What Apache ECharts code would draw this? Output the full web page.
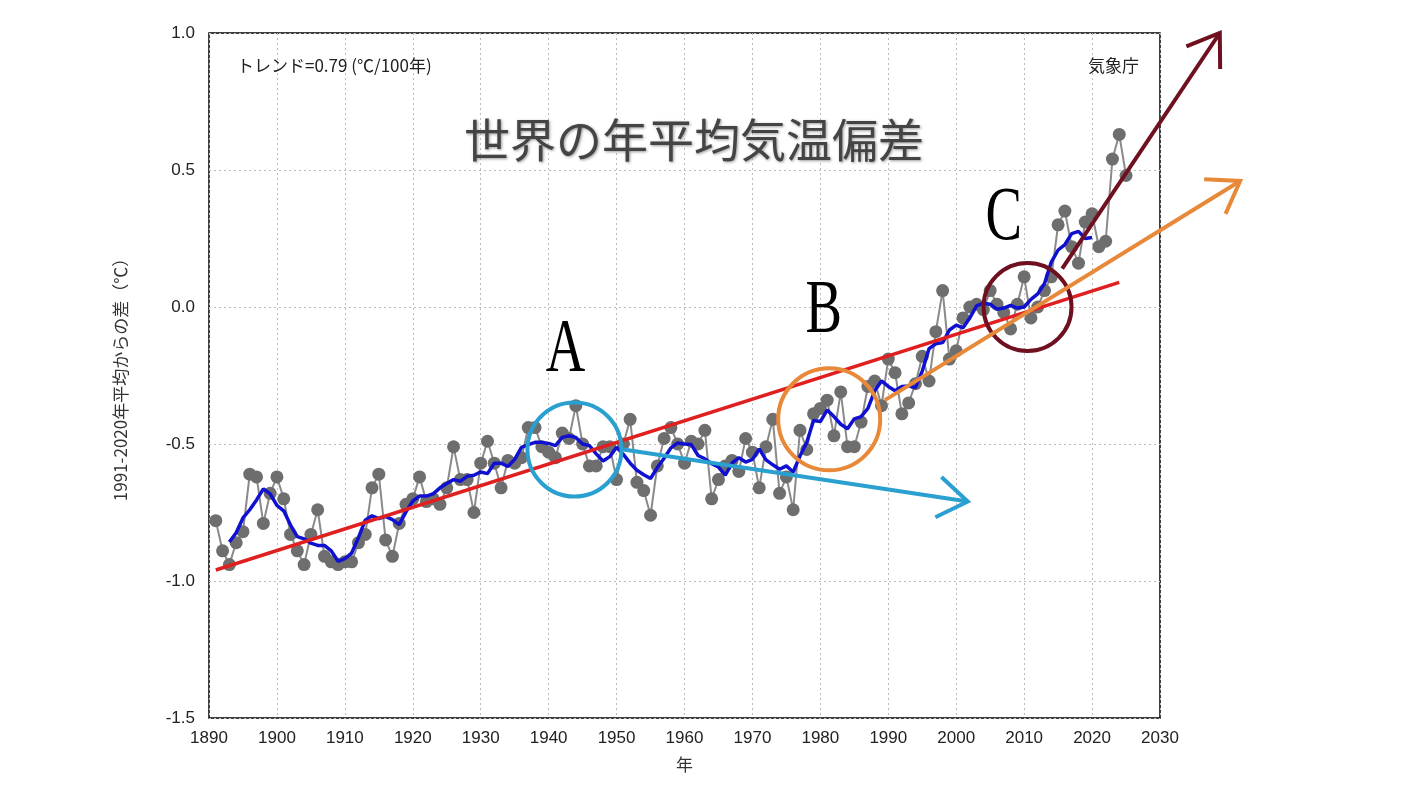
<!DOCTYPE html>
<html><head><meta charset="utf-8">
<script src="https://cdn.jsdelivr.net/npm/echarts@6/dist/echarts.min.js"></script>
<style>html,body{margin:0;background:#fff}#c{width:1409px;height:792px}</style>
</head><body><div id="c"></div>
<script>
const startYear = 1891;
const anomalies = [-0.78,-0.89,-0.94,-0.86,-0.82,-0.61,-0.62,-0.79,-0.68,-0.62,
-0.70,-0.83,-0.89,-0.94,-0.83,-0.74,-0.91,-0.93,-0.94,-0.93,
-0.93,-0.86,-0.83,-0.66,-0.61,-0.85,-0.91,-0.79,-0.72,-0.70,
-0.62,-0.71,-0.70,-0.72,-0.66,-0.51,-0.63,-0.63,-0.75,-0.57,
-0.49,-0.57,-0.66,-0.56,-0.57,-0.55,-0.44,-0.44,-0.51,-0.53,
-0.55,-0.46,-0.48,-0.36,-0.50,-0.58,-0.58,-0.51,-0.51,-0.63,
-0.50,-0.41,-0.64,-0.67,-0.76,-0.58,-0.48,-0.44,-0.50,-0.57,
-0.49,-0.50,-0.45,-0.70,-0.63,-0.58,-0.56,-0.60,-0.48,-0.53,
-0.66,-0.51,-0.41,-0.68,-0.62,-0.74,-0.45,-0.52,-0.39,-0.37,
-0.34,-0.47,-0.31,-0.51,-0.51,-0.42,-0.29,-0.27,-0.36,-0.19,
-0.24,-0.39,-0.35,-0.28,-0.18,-0.27,-0.09,0.06,-0.19,-0.16,
-0.04,0.00,0.01,-0.01,0.06,0.01,-0.02,-0.08,0.01,0.11,
-0.04,0.00,0.06,0.11,0.30,0.35,0.22,0.16,0.31,0.34,
0.22,0.24,0.54,0.63,0.48];
const trendStart = [1891, -0.96];
const trendEnd = [2024, 0.09];

const annual = anomalies.map((v,i)=>[startYear+i, v]);
const running = [];
for (let i=2;i<anomalies.length-2;i++){
  if (startYear+i>2020) break;
  let s=0; for(let k=-2;k<=2;k++) s+=anomalies[i+k];
  running.push([startYear+i, +(s/5).toFixed(3)]);
}

const chart = echarts.init(document.getElementById('c'));
chart.setOption({
  backgroundColor:'#fff',
  animation:false,
  grid:{show:true, borderColor:'#000', borderWidth:1.5, left:209, right:249, top:33, bottom:74},
  xAxis:{type:'value', min:1890, max:2030, interval:10,
    name:'年', nameLocation:'middle', nameGap:38, nameTextStyle:{fontSize:17,color:'#333',fontFamily:'Noto Sans CJK JP'},
    axisLine:{show:false}, axisTick:{show:false},
    axisLabel:{fontSize:17,color:'#222',margin:12,fontFamily:'Liberation Sans',formatter:v=>String(v)},
    splitLine:{show:true,lineStyle:{color:'#bbb',type:[2,3]}}},
  yAxis:{type:'value', min:-1.5, max:1.0, interval:0.5,
    name:'1991-2020年平均からの差（℃）', nameLocation:'middle', nameGap:80,
    nameTextStyle:{fontSize:17,color:'#333',fontFamily:'Noto Sans CJK JP'},
    axisLine:{show:false}, axisTick:{show:false},
    axisLabel:{fontSize:17,color:'#222',margin:14,fontFamily:'Liberation Sans',formatter:v=>v.toFixed(1)},
    splitLine:{show:true,lineStyle:{color:'#bbb',type:[2,3]}}},
  series:[
    {type:'line', data:annual, symbol:'circle', symbolSize:13, itemStyle:{color:'#6e6e6e'},
      lineStyle:{color:'#8a8a8a',width:2}, z:2},
    {type:'line', data:running, symbol:'none', lineStyle:{color:'#1010d0',width:3.5}, z:3},
    {type:'line', data:[trendStart,trendEnd], symbol:'none', lineStyle:{color:'#e02020',width:3.5}, z:4}
  ]
});

function P(x,y){return chart.convertToPixel({gridIndex:0},[x,y]);}
function arrow(a,b,color,w){
  const p=P(a[0],a[1]), q=P(b[0],b[1]);
  const ang=Math.atan2(q[1]-p[1],q[0]-p[0]), L=36, s=0.6;
  const h1=[q[0]-L*Math.cos(ang-s), q[1]-L*Math.sin(ang-s)];
  const h2=[q[0]-L*Math.cos(ang+s), q[1]-L*Math.sin(ang+s)];
  return [
    {type:'line',shape:{x1:p[0],y1:p[1],x2:q[0],y2:q[1]},style:{stroke:color,lineWidth:w},z:10},
    {type:'polyline',shape:{points:[h1,q,h2]},style:{stroke:color,lineWidth:w,fill:null},z:10}
  ];
}
function circle(c,r,color){const p=P(c[0],c[1]);
  return {type:'circle',shape:{cx:p[0],cy:p[1],r:r},style:{stroke:color,lineWidth:4,fill:null},z:10};}
function letter(c,t){const p=P(c[0],c[1]);
  return {type:'text',x:p[0],y:p[1],scaleX:0.72,style:{text:t,fontSize:76,fontFamily:'Liberation Serif',fill:'#000',align:'center',verticalAlign:'middle'},z:11};}

const els=[
  {type:'text',left:237,top:57,style:{text:'トレンド=0.79 (℃/100年)',fontSize:17,fill:'#222',fontFamily:'Noto Sans CJK JP'}},
  {type:'text',right:270,top:57,style:{text:'気象庁',fontSize:17,fill:'#222',fontFamily:'Noto Sans CJK JP'}},
  {type:'text',x:694,y:140,style:{text:'世界の年平均気温偏差',fontSize:46,fill:'#444',fontFamily:'Noto Sans CJK JP',align:'center',verticalAlign:'middle',textShadowColor:'#999',textShadowBlur:3,textShadowOffsetX:1,textShadowOffsetY:1}},
  circle([1943.8,-0.52],47,'#2aa0d0'),
  circle([1981.3,-0.41],51,'#e8893a'),
  circle([2010.5,0.0],44,'#6e1020'),
  ...arrow([1951,-0.52],[2001.7,-0.71],'#2aa0d0',4),
  ...arrow([1989.5,-0.34],[2041.8,0.46],'#e8893a',4),
  ...arrow([2015.6,0.14],[2038.8,1.0],'#6e1020',4),
  letter([1942.5,-0.16],'A'),
  letter([1980.5,-0.02],'B'),
  letter([2007,0.32],'C')
];
chart.setOption({graphic:els});
</script></body></html>
